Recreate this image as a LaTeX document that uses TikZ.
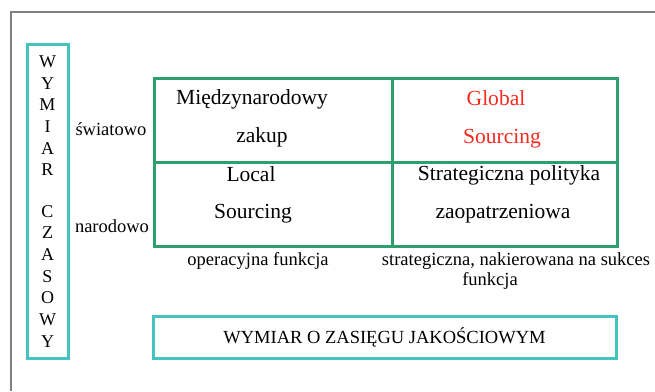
\documentclass[tikz,border=0pt]{standalone}
\usepackage{fontspec}
\setmainfont{Liberation Serif}
\usepackage{tikz}
\definecolor{gridgreen}{HTML}{2E9E6E}
\definecolor{boxteal}{HTML}{45C3BF}
\definecolor{hotred}{HTML}{F5281E}
\begin{document}
\begin{tikzpicture}[x=1pt,y=-1pt,
    cell/.style={draw=gridgreen,line width=3pt,minimum height=84pt,anchor=north west,inner sep=0pt},
    tealbox/.style={draw=boxteal,line width=3pt,inner sep=0pt,align=center},
    big/.style={font=\fontsize{21.5}{26}\selectfont,anchor=base,inner sep=0pt},
    small/.style={font=\fontsize{18.5}{22}\selectfont,anchor=base,inner sep=0pt}]
                    \useasboundingbox (0,0) rectangle (655,391);
                    \coordinate (fb) at (11,391);
                    \coordinate (fc) at (11,12);
                    \coordinate (fr) at (655,12);
                    \draw[gray,line width=1.5pt] (fb) -- (fc) -- (fr);

                    \node[tealbox,minimum width=41pt,minimum height=314pt,font=\fontsize{18}{21.7}\selectfont] (ww) at (47.5,201.5)
                        {W\\Y\\M\\I\\A\\R\\[19.5pt]C\\Z\\A\\S\\O\\W\\Y};
                    \node[tealbox,minimum width=463pt,minimum height=42pt,font=\fontsize{18.5}{22}\selectfont] (wj) at (384.5,337)
                        {WYMIAR O ZASIĘGU JAKOŚCIOWYM};

                    \node[cell,minimum width=238pt] (mz) at (153,77) {};
                    \node[cell,minimum width=225pt] (gs) at (391,77) {};
                    \node[cell,minimum width=238pt] (ls) at (153,161) {};
                    \node[cell,minimum width=225pt] (sp) at (391,161) {};

                    \node[big] (mz1) at (252,104) {Międzynarodowy};
                    \node[big] (mz2) at (262,142) {zakup};
                    \node[big,text=hotred] (gs1) at (496,105) {Global};
                    \node[big,text=hotred] (gs2) at (502,143) {Sourcing};
                    \node[big] (ls1) at (251,181) {Local};
                    \node[big] (ls2) at (253,218) {Sourcing};
                    \node[big] (sp1) at (509,180) {Strategiczna polityka};
                    \node[big] (sp2) at (503,218) {zaopatrzeniowa};

                    \node[small] (sw) at (111,135) {światowo};
                    \node[small] (nr) at (112,232) {narodowo};
                    \node[small] (of) at (258,265) {operacyjna funkcja};
                    \node[small] (sf1) at (516,265) {strategiczna, nakierowana na sukces};
                    \node[small] (sf2) at (490,285) {funkcja};
                \end{tikzpicture}
\end{document}
